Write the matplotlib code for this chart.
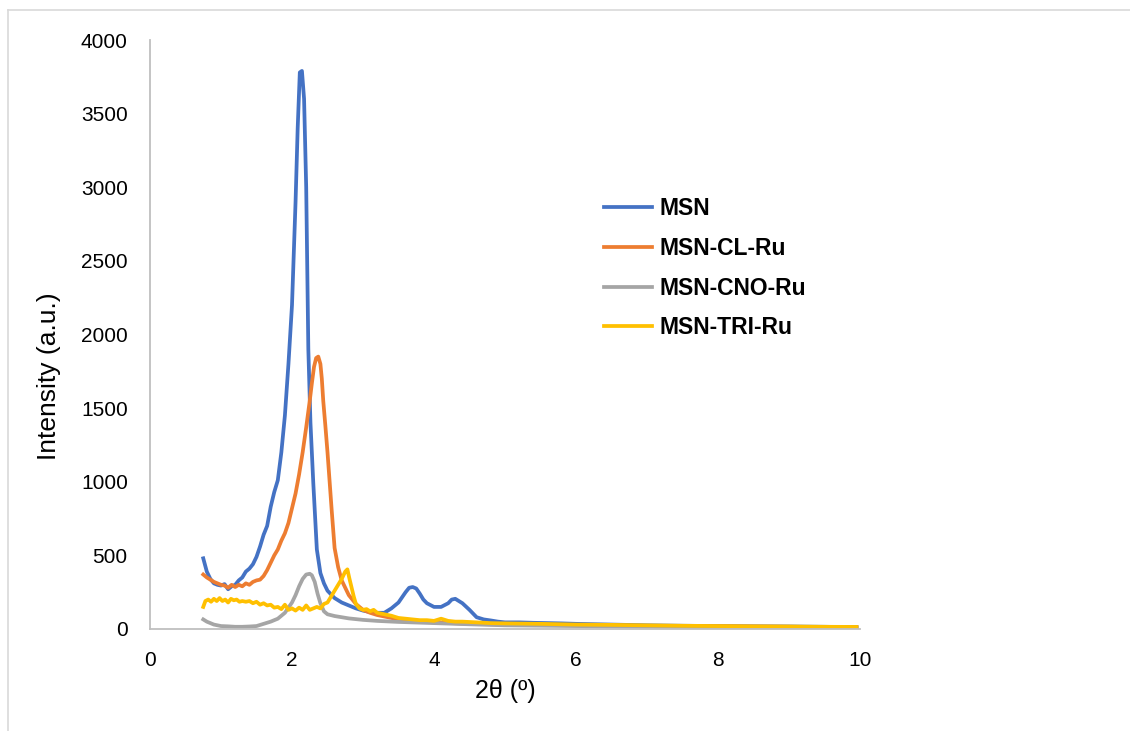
import matplotlib
matplotlib.use('Agg')
import matplotlib.pyplot as plt
from matplotlib.lines import Line2D

plt.rcParams['font.family'] = ['Liberation Sans', 'DejaVu Sans']

# MSN
msn_x = [0.75, 0.8, 0.85, 0.9, 0.95, 1.0, 1.05, 1.1, 1.15, 1.2, 1.25, 1.3, 1.35, 1.4,
         1.45, 1.5, 1.55, 1.6, 1.65, 1.7, 1.75, 1.8, 1.85, 1.9, 1.95, 2.0, 2.05, 2.08,
         2.11, 2.14, 2.17, 2.2, 2.23, 2.26, 2.3, 2.35, 2.4, 2.45, 2.5, 2.6, 2.7, 2.8,
         2.9, 3.0, 3.1, 3.2, 3.3, 3.4, 3.5, 3.6, 3.65, 3.7, 3.75, 3.8, 3.85, 3.9, 4.0,
         4.1, 4.2, 4.25, 4.3, 4.35, 4.4, 4.5, 4.6, 4.7, 4.8, 4.9, 5.0, 5.2, 5.4, 5.6,
         5.8, 6.0, 6.5, 7.0, 7.5, 8.0, 8.5, 9.0, 9.5, 9.95]
msn_y = [480, 390, 340, 310, 300, 295, 305, 270, 290, 300, 330, 350, 390, 410,
         440, 490, 560, 640, 700, 830, 930, 1010, 1200, 1450, 1800, 2200, 2900, 3400,
         3780, 3790, 3600, 3000, 1900, 1400, 990, 540, 380, 310, 260, 210, 180, 160,
         140, 125, 115, 110, 110, 140, 180, 250, 280, 285, 275, 240, 200, 175, 150,
         150, 175, 200, 205, 190, 175, 130, 80, 65, 58, 50, 45, 45, 42, 40,
         38, 35, 30, 25, 22, 20, 18, 17, 15, 12]

# MSN-CL-Ru
cl_x = [0.75, 0.8, 0.85, 0.9, 0.95, 1.0, 1.05, 1.1, 1.15, 1.2, 1.25, 1.3, 1.35, 1.4,
        1.45, 1.5, 1.55, 1.6, 1.65, 1.7, 1.75, 1.8, 1.85, 1.9, 1.95, 2.0, 2.05, 2.1,
        2.15, 2.2, 2.25, 2.28, 2.31, 2.34, 2.37, 2.4, 2.42, 2.44, 2.47, 2.5, 2.53,
        2.56, 2.6, 2.65, 2.7, 2.8, 2.9, 3.0, 3.1, 3.2, 3.3, 3.4, 3.5, 3.7, 4.0, 4.5,
        5.0, 6.0, 7.0, 8.0, 9.0, 9.95]
cl_y = [370, 350, 335, 320, 310, 300, 295, 280, 300, 285, 300, 290, 310, 300,
        320, 330, 335, 360, 400, 450, 500, 540, 600, 650, 720, 820, 920, 1050,
        1200, 1370, 1550, 1670, 1780, 1840, 1850, 1800, 1700, 1550, 1380, 1200, 1000,
        800, 550, 420, 330, 230, 170, 130, 110, 95, 85, 75, 65, 55, 45, 35,
        30, 25, 20, 18, 15, 12]

# MSN-CNO-Ru
cno_x = [0.75, 0.8, 0.9, 1.0, 1.1, 1.2, 1.3, 1.4, 1.5, 1.6, 1.7, 1.8, 1.9, 2.0, 2.05,
         2.1, 2.15, 2.2, 2.25, 2.28, 2.32, 2.36, 2.4, 2.45, 2.5, 2.6, 2.7, 2.8, 3.0,
         3.2, 3.5, 4.0, 4.5, 5.0, 6.0, 7.0, 8.0, 9.0, 9.95]
cno_y = [65, 50, 30, 20, 18, 15, 15, 17, 20, 35, 50, 70, 110, 180, 230,
         290, 340, 370, 375, 365, 320, 240, 175, 120, 100, 88, 80, 72, 62,
         55, 48, 40, 32, 25, 20, 15, 12, 10, 8]

# MSN-TRI-Ru
tri_x = [0.75, 0.78, 0.82, 0.86, 0.9, 0.94, 0.98, 1.02, 1.06, 1.1, 1.14, 1.18, 1.22,
         1.26, 1.3, 1.35, 1.4, 1.45, 1.5, 1.55, 1.6, 1.65, 1.7, 1.75, 1.8, 1.85, 1.9,
         1.95, 2.0, 2.05, 2.1, 2.15, 2.2, 2.25, 2.3, 2.35, 2.4, 2.45, 2.5, 2.55, 2.6,
         2.65, 2.7, 2.75, 2.78, 2.81, 2.84, 2.87, 2.9, 2.95, 3.0, 3.05, 3.1, 3.15, 3.2,
         3.3, 3.4, 3.5, 3.6, 3.7, 3.8, 3.9, 4.0, 4.1, 4.2, 4.3, 4.4, 4.6, 4.8, 5.0,
         5.5, 6.0, 6.5, 7.0, 7.5, 8.0, 8.5, 9.0, 9.5, 9.95]
tri_y = [150, 190, 200, 185, 205, 190, 210, 190, 200, 180, 205, 195, 200,
         185, 190, 185, 190, 175, 185, 165, 175, 160, 165, 145, 150, 135, 165,
         130, 140, 125, 145, 130, 160, 130, 140, 150, 140, 170, 180, 220, 260,
         300, 340, 390, 405, 340, 280, 220, 170, 140, 130, 135, 120, 130, 110,
         100, 90, 75, 70, 65, 60, 60, 55, 70, 55, 50, 50, 45, 40, 38,
         35, 30, 28, 25, 22, 20, 18, 17, 15, 14]

series = [
    ('MSN', msn_x, msn_y, '#4472C4'),
    ('MSN-CL-Ru', cl_x, cl_y, '#ED7D31'),
    ('MSN-CNO-Ru', cno_x, cno_y, '#A5A5A5'),
    ('MSN-TRI-Ru', tri_x, tri_y, '#FFC000'),
]

W, H = 1130, 731
fig = plt.figure(figsize=(W / 100, H / 100), dpi=100)
ax = fig.add_axes([150 / W, 1 - 629 / H, 710 / W, 589 / H])

for name, xs, ys, col in series:
    ax.plot(xs, ys, color=col, lw=2.7, label=name, solid_joinstyle='round')

ax.set_xlim(0, 10)
ax.set_ylim(0, 4000)
ax.set_xticks(range(0, 11, 2))
ax.set_yticks(range(0, 4001, 500))
for side in ('top', 'right'):
    ax.spines[side].set_visible(False)
for side in ('left', 'bottom'):
    ax.spines[side].set_color('#BFBFBF')
    ax.spines[side].set_linewidth(1.3)
ax.tick_params(length=0, labelsize=15, pad=16)
ax.set_xlabel('2θ (º)', fontsize=18, labelpad=6)
ax.set_ylabel('Intensity (a.u.)', fontsize=19)
ax.yaxis.set_label_coords(-0.125, 0.43)

leg = fig.legend(loc='upper left', bbox_to_anchor=(583 / W, 1 - 176 / H),
                 frameon=False, handlelength=2.1, handletextpad=0.35,
                 labelspacing=0.74, prop={'weight': 'bold', 'size': 16.5})

# light outer frame of the chart area
fig.add_artist(Line2D([8 / W, 8 / W], [0, 1 - 10 / H], color='#D9D9D9', lw=1.2))
fig.add_artist(Line2D([8 / W, 1], [1 - 10 / H, 1 - 10 / H], color='#D9D9D9', lw=1.2))

fig.savefig('out.png', dpi=100)
